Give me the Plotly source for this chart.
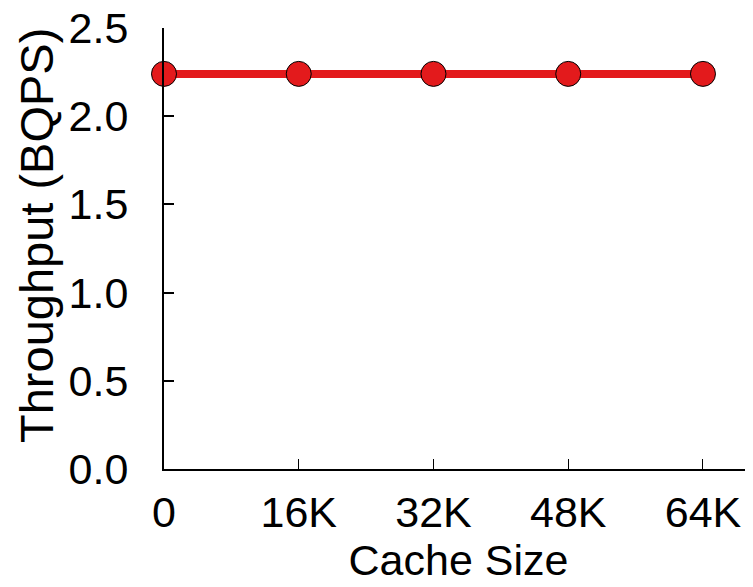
import plotly.graph_objects as go

cache_sizes = [0, 16, 32, 48, 64]
tick_labels = ["0", "16K", "32K", "48K", "64K"]
throughput = [2.24, 2.24, 2.24, 2.24, 2.24]
y_ticks = [0.0, 0.5, 1.0, 1.5, 2.0, 2.5]

red = "#e31a1c"

fig = go.Figure()
fig.add_trace(go.Scatter(
    x=cache_sizes, y=throughput, mode="lines+markers",
    line=dict(color=red, width=8),
    marker=dict(size=25, color=red, line=dict(color="black", width=1)),
    cliponaxis=False, showlegend=False,
))

font = dict(family="Liberation Sans, Arial, sans-serif", size=43, color="black")
yfont = dict(family="Liberation Sans, Arial, sans-serif", size=47, color="black")

W, H = 745, 579
L, T, B = 156, 20, 118
pw, ph = W - L, H - T - B

fig.update_layout(
    width=W, height=H,
    margin=dict(l=L, r=0, t=T, b=B),
    plot_bgcolor="white", paper_bgcolor="white",
    font=font,
    xaxis=dict(
        range=[0, 69.94], tickvals=cache_sizes, ticktext=tick_labels,
        ticks="inside", ticklen=10, tickwidth=1, tickcolor="black",
        showline=True, linecolor="black", linewidth=2, mirror=False,
        showgrid=False, zeroline=False, automargin=False,
        title=dict(text="Cache Size", font=font, standoff=4),
        tickfont=font, ticklabelstandoff=4,
    ),
    yaxis=dict(
        range=[0, 2.5001], tickvals=y_ticks, ticktext=[f"{v:.1f}" for v in y_ticks],
        ticks="inside", ticklen=10, tickwidth=1.5, tickcolor="black",
        showline=True, linecolor="black", linewidth=2, mirror=False,
        showgrid=False, zeroline=False, automargin=False,
        tickfont=font, ticklabelstandoff=25, ticklabeloverflow="allow",
    ),
    annotations=[dict(
        text="Throughput (BQPS)", textangle=-90, font=yfont,
        xref="paper", yref="paper",
        x=(28 - L) / pw, y=(H - B - 228) / ph,
        xanchor="center", yanchor="middle", showarrow=False,
    )],
)

fig.write_html("out.html")
